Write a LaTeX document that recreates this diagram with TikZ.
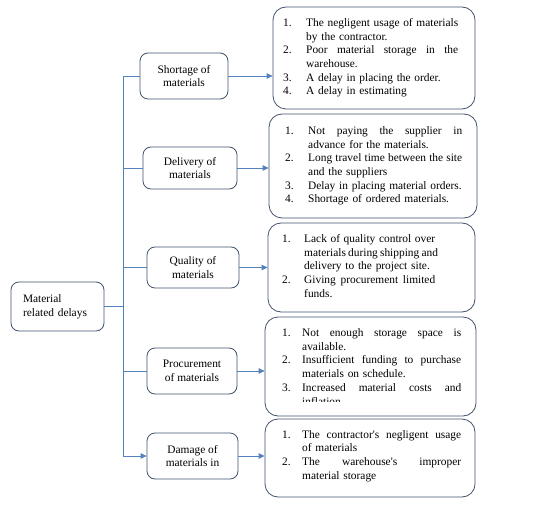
\documentclass[tikz,border=0pt]{standalone}
\usepackage{fontspec}
\setmainfont{Liberation Serif}
\usetikzlibrary{arrows.meta}
\definecolor{boxline}{RGB}{66,82,108}
\definecolor{conn}{RGB}{84,130,190}
\newlength\numw
\newlength\txw
\newcommand\jbox[1]{\hbox to\txw{\spaceskip=0.25em plus 3em minus 0.06em\relax #1}}
\newcommand\nl[2]{\noindent\makebox[\numw][l]{#1}\jbox{#2}\par}
\newcommand\nn[2]{\noindent\makebox[\numw][l]{#1}#2\par}
\newcommand\cl[1]{\noindent\hspace*{\numw}\jbox{#1}\par}
\newcommand\lc[1]{\noindent\hspace*{\numw}#1\par}
\begin{document}
\begin{tikzpicture}[x=1pt,y=-1pt,
  txt/.style={font=\rmfamily\fontsize{11.4}{13.7}\selectfont},
  branch/.style={draw=boxline, line width=0.8pt, rounded corners=8pt, align=center, inner sep=0pt, txt},
  detail/.style={draw=boxline, line width=0.8pt, rounded corners=13pt, inner sep=0pt},
  dtext/.style={anchor=base west, inner sep=0pt, align=left, txt},
  link/.style={draw=conn, line width=0.8pt},
  arr/.style={link, -{Triangle[width=5.5pt,length=6pt]}}]
\useasboundingbox (0,0) rectangle (534,510);

% root
\node[branch, align=left, minimum width=93pt, minimum height=49pt, text width=69pt] (root) at (57.5,306.5) {Material\\related delays};

% branch boxes
\node[branch, minimum width=88pt, minimum height=46pt] (sh) at (184,76) {Shortage of\\materials};
\node[branch, minimum width=94pt, minimum height=42pt] (de) at (190,168) {Delivery of\\materials};
\node[branch, minimum width=92pt, minimum height=41pt] (qu) at (193,267.5) {Quality of\\materials};
\node[branch, minimum width=90pt, minimum height=46pt] (pr) at (192,371) {Procurement\\of materials};
\node[branch, minimum width=91pt, minimum height=46pt] (dm) at (192.5,456) {Damage of\\materials in};

% detail boxes
\node[detail, minimum width=202pt, minimum height=102pt] (b1) at (374,58) {};
\node[detail, minimum width=208pt, minimum height=104pt] (b2) at (373,166) {};
\node[detail, minimum width=207pt, minimum height=89pt] (b3) at (371.5,267.5) {};
\node[detail, minimum width=211pt, minimum height=99pt] (b4) at (370.5,366.5) {};
\node[detail, minimum width=210pt, minimum height=78pt] (b5) at (370,458) {};

% detail texts
\node[dtext, text width=175pt] (t1) at (283,26.5) {\setlength\numw{23pt}\setlength\txw{152pt}%
\nl{1.}{The negligent usage of materials}
\lc{by the contractor.}
\nl{2.}{Poor material storage in the}
\lc{warehouse.}
\nn{3.}{A delay in placing the order.}
\nn{4.}{A delay in estimating}};

\node[dtext, text width=177pt] (t2) at (285,134.5) {\setlength\numw{23pt}\setlength\txw{154pt}%
\nl{1.}{Not paying the supplier in}
\lc{advance for the materials.}
\nl{2.}{Long travel time between the site}
\lc{and the suppliers}
\nn{3.}{Delay in placing material orders.}
\nn{4.}{Shortage of ordered materials.}};

\node[dtext, text width=160pt] (t3) at (282,242.5) {\setlength\numw{22pt}\setlength\txw{131pt}%
\nl{1.}{Lack of quality control over}
\cl{materials during shipping and}
\lc{delivery to the project site.}
\nl{2.}{Giving procurement limited}
\lc{funds.}};

\begin{scope}
\clip (260,317) rectangle (480,401.5);
\node[dtext, text width=182pt] (t4) at (282,336.5) {\setlength\numw{20pt}\setlength\txw{159pt}%
\nl{1.}{Not enough storage space is}
\lc{available.}
\nl{2.}{Insufficient funding to purchase}
\lc{materials on schedule.}
\nl{3.}{Increased material costs and}
\lc{inflation.}};
\end{scope}

\node[dtext, text width=182pt] (t5) at (282,438) {\setlength\numw{20pt}\setlength\txw{159pt}%
\nl{1.}{The contractor\textquotesingle s negligent usage}
\lc{of materials}
\nl{2.}{The warehouse\textquotesingle s improper}
\lc{material storage}};

% connectors
\coordinate (jt) at (123,76);
\coordinate (jb) at (123,456);
\draw[link] (sh.west) -- (jt) -- (jb);
\draw[arr] (jb) -- (dm.west);
\draw[link] (root.east) -- (root.east -| jt);
\draw[link] (de.west) -- (de.west -| jt);
\draw[link] (qu.west) -- (qu.west -| jt);
\draw[link] (pr.west) -- (pr.west -| jt);

\draw[arr] (sh.east) -- (b1.west |- sh.east);
\draw[arr] (de.east) -- (b2.west |- de.east);
\draw[arr] (qu.east) -- (b3.west |- qu.east);
\draw[arr] (pr.east) -- (b4.west |- pr.east);
\draw[arr] (dm.east) -- (b5.west |- dm.east);
\end{tikzpicture}
\end{document}
